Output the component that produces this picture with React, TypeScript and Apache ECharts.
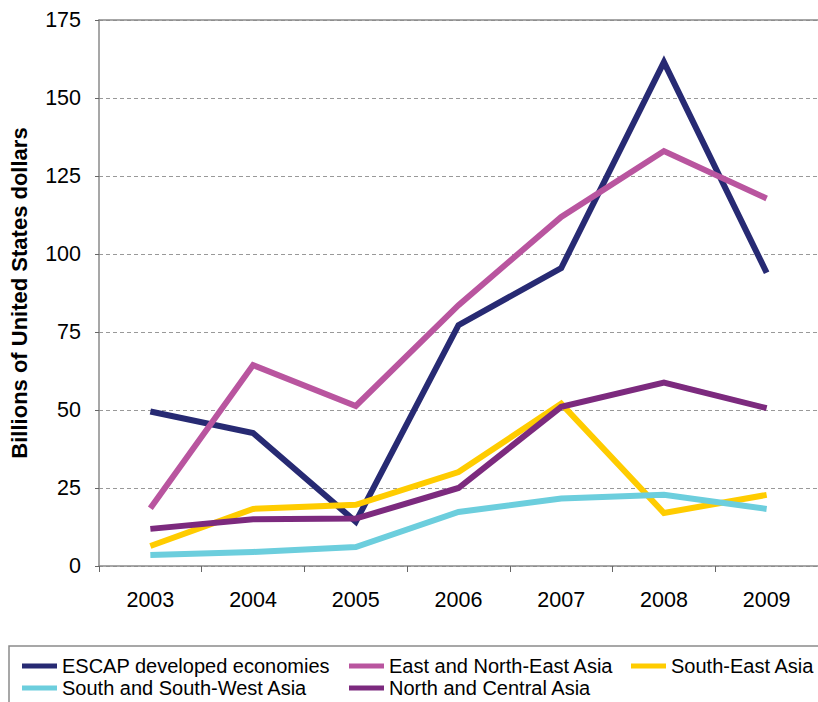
import React, { useEffect, useRef } from "react";
import * as echarts from "echarts";

const years = ["2003", "2004", "2005", "2006", "2007", "2008", "2009"];
const escapDeveloped = [49.5, 42.6, 14.2, 77.2, 95.5, 161.5, 94];
const eastNorthEast = [18.5, 64.4, 51.3, 83.6, 111.9, 133, 117.8];
const southEast = [6.4, 18.3, 19.6, 30.1, 52, 17, 22.8];
const southSouthWest = [3.5, 4.5, 6.1, 17.3, 21.6, 22.8, 18.3];
const northCentral = [11.9, 15, 15.2, 25, 51, 58.8, 50.6];

const seriesNames = [
  "ESCAP developed economies",
  "East and North-East Asia",
  "South-East Asia",
  "South and South-West Asia",
  "North and Central Asia",
];
const seriesData = [escapDeveloped, eastNorthEast, southEast, southSouthWest, northCentral];
const colors = ["#272a73", "#b9559f", "#ffcc00", "#6ccedd", "#7c2a7e"];
const yTicks = [0, 25, 50, 75, 100, 125, 150, 175];

const FONT = "'Liberation Sans', Arial, Helvetica, sans-serif";

export default function App() {
  const ref = useRef<HTMLDivElement>(null);
  useEffect(() => {
    if (!ref.current) return;
    const chart = echarts.init(ref.current, null, { renderer: "svg" });
    const legendPos = [
      { left: 22, top: 656 },
      { left: 349, top: 656 },
      { left: 631, top: 656 },
      { left: 22, top: 678 },
      { left: 349, top: 678 },
    ];
    chart.setOption({
      animation: false,
      backgroundColor: "#ffffff",
      textStyle: { fontFamily: FONT },
      grid: { left: 98, top: 20, width: 728, height: 546, containLabel: false },
      xAxis: [
        {
          type: "category",
          data: years,
          boundaryGap: true,
          axisLine: { show: true, lineStyle: { color: "#8a8a8a", width: 1.5 } },
          axisTick: { show: true, alignWithLabel: false, length: 6, lineStyle: { color: "#666", width: 1 } },
          axisLabel: { color: "#000", fontSize: 21.5, fontFamily: FONT, margin: 23 },
          splitLine: { show: false },
        },
        {
          type: "category",
          data: years,
          position: "top",
          axisLine: { show: true, lineStyle: { color: "#8a8a8a", width: 1.5 } },
          axisTick: { show: false },
          axisLabel: { show: false },
          splitLine: { show: false },
        },
      ],
      yAxis: {
        type: "value",
        min: yTicks[0],
        max: yTicks[yTicks.length - 1],
        interval: 25,
        name: "Billions of United States dollars",
        nameLocation: "middle",
        nameGap: 69,
        nameTextStyle: { color: "#000", fontSize: 22, fontWeight: "bold", fontFamily: FONT },
        axisLine: { show: true, lineStyle: { color: "#8a8a8a", width: 1.5 } },
        axisTick: { show: true, length: 4, lineStyle: { color: "#666" } },
        axisLabel: { color: "#000", fontSize: 21.5, fontFamily: FONT, margin: 18 },
        splitLine: { show: true, lineStyle: { color: "#999", type: [4, 3], width: 1 } },
      },
      legend: seriesNames.map((n, i) => ({
        data: [n],
        left: legendPos[i].left,
        top: legendPos[i].top,
        padding: 0,
        itemWidth: 35,
        itemHeight: 5,
        itemGap: 0,
        icon: "rect",
        textStyle: { color: "#000", fontSize: 20, fontFamily: FONT },
      })),
      graphic: [
        {
          type: "rect",
          shape: { x: 9, y: 646, width: 830, height: 80 },
          style: { fill: "none", stroke: "#8a8a8a", lineWidth: 1.5 },
          silent: true,
        },
      ],
      series: seriesNames.map((n, i) => ({
        name: n,
        type: "line",
        data: seriesData[i],
        showSymbol: false,
        symbol: "none",
        color: colors[i],
        lineStyle: { color: colors[i], width: 6, join: "miter", cap: "butt" },
        z: 2 + i,
      })),
    });
    return () => chart.dispose();
  }, []);
  return (
    <div
      ref={ref}
      style={{ position: "fixed", left: 0, top: 0, width: 818, height: 702 }}
    />
  );
}
